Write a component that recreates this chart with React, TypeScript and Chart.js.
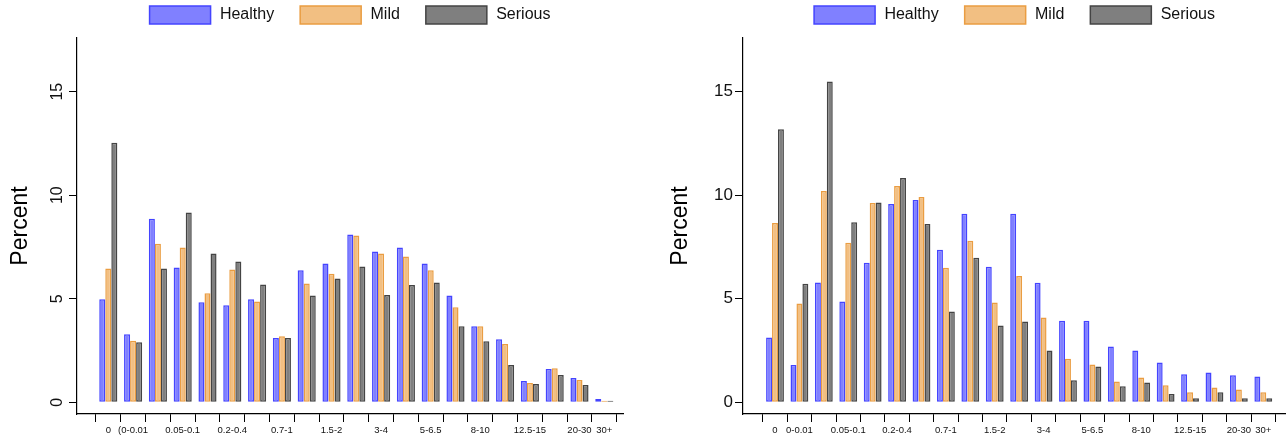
import React, { useEffect, useRef } from "react";
import { Chart, registerables } from "chart.js";

Chart.register(...registerables);

const categoriesLeft = ["0", "(0-0.01", "0.01-0.05", "0.05-0.1", "0.1-0.2", "0.2-0.4", "0.4-0.7", "0.7-1", "1-1.5", "1.5-2", "2-3", "3-4", "4-5", "5-6.5", "6.5-8", "8-10", "10-12.5", "12.5-15", "15-20", "20-30", "30+"];
const categoriesRight = ["0", "0-0.01", "0.01-0.05", "0.05-0.1", "0.1-0.2", "0.2-0.4", "0.4-0.7", "0.7-1", "1-1.5", "1.5-2", "2-3", "3-4", "4-5", "5-6.5", "6.5-8", "8-10", "10-12.5", "12.5-15", "15-20", "20-30", "30+"];

const tickLabelsLeft = ["0", "(0-0.01", "", "0.05-0.1", "", "0.2-0.4", "", "0.7-1", "", "1.5-2", "", "3-4", "", "5-6.5", "", "8-10", "", "12.5-15", "", "20-30", "30+"];
const tickLabelsRight = ["0", "0-0.01", "", "0.05-0.1", "", "0.2-0.4", "", "0.7-1", "", "1.5-2", "", "3-4", "", "5-6.5", "", "8-10", "", "12.5-15", "", "20-30", "30+"];

const yTicks = [0, 5, 10, 15];

const healthyLeft = [4.97, 3.29, 8.86, 6.51, 4.83, 4.68, 4.97, 3.10, 6.37, 6.70, 8.10, 7.28, 7.47, 6.70, 5.16, 3.67, 3.05, 1.03, 1.61, 1.17, 0.16];
const mildLeft = [6.46, 2.97, 7.66, 7.47, 5.26, 6.41, 4.87, 3.19, 5.74, 6.21, 8.05, 7.18, 7.04, 6.37, 4.59, 3.67, 2.81, 0.93, 1.65, 1.08, 0.07];
const seriousLeft = [12.53, 2.90, 6.46, 9.17, 7.18, 6.80, 5.69, 3.10, 5.16, 5.98, 6.56, 5.18, 5.66, 5.79, 3.67, 2.95, 1.80, 0.88, 1.32, 0.84, 0.07];

const healthyRight = [3.13, 1.80, 5.78, 4.87, 6.74, 9.57, 9.77, 7.36, 9.10, 6.55, 9.10, 5.77, 3.94, 3.94, 2.69, 2.50, 1.92, 1.35, 1.44, 1.30, 1.25];
const mildRight = [8.66, 4.77, 10.20, 7.70, 9.62, 10.44, 9.91, 6.50, 7.80, 4.82, 6.10, 4.10, 2.10, 1.82, 1.00, 1.20, 0.82, 0.48, 0.72, 0.62, 0.48];
const seriousRight = [13.18, 5.73, 15.49, 8.69, 9.65, 10.83, 8.61, 4.38, 6.98, 3.71, 3.90, 2.50, 1.06, 1.73, 0.77, 0.96, 0.40, 0.19, 0.48, 0.19, 0.19];

const seriesNames = ["Healthy", "Mild", "Serious"];

const FONT = "'Liberation Sans', Arial, Helvetica, sans-serif";
const W = 643;
const H = 442;
const LEGEND_HEIGHT = 38;

type PanelProps = {
  categories: string[];
  tickLabels: string[];
  series: number[][];
  left: number;
  yWidth: number;
  padRight: number;
  xMin: number;
  xMax: number;
  yRotated: boolean;
  titlePad: number;
};

const styles = [
  { bg: "#8080FF", border: "#4444FF" },
  { bg: "#F2BF82", border: "#EA9D42" },
  { bg: "#7F7F7F", border: "#444444" },
];

const legendHeightPlugin = {
  id: "legendHeight",
  beforeLayout(chart: any) {
    const lg = chart.legend;
    if (lg && !lg.__patched) {
      const orig = lg.fit.bind(lg);
      lg.fit = function () {
        orig();
        this.height = LEGEND_HEIGHT;
      };
      lg.__patched = true;
    }
  },
};

function Panel(p: PanelProps) {
  const ref = useRef<HTMLCanvasElement | null>(null);
  useEffect(() => {
    if (!ref.current) return;
    const datasets = p.series.map((vals, si) => ({
      label: seriesNames[si],
      data: p.categories.map((_, i) => ({ x: i, y: vals[i] })),
      backgroundColor: styles[si].bg,
      borderColor: styles[si].border,
      borderWidth: 1.5,
      borderSkipped: false,
      categoryPercentage: 0.73,
      barPercentage: 1.0,
    }));
    const chart = new Chart(ref.current, {
      type: "bar",
      data: { datasets },
      plugins: [legendHeightPlugin],
      options: {
        animation: false,
        responsive: false,
        layout: { padding: { top: 0, right: p.padRight, bottom: 0, left: 0 } },
        plugins: {
          tooltip: { enabled: false },
          legend: {
            display: true,
            position: "top",
            fullSize: false,
            labels: {
              boxWidth: 61,
              boxHeight: 18,
              padding: 6,
              color: "#111",
              font: { family: FONT, size: 16 },
              generateLabels: (chart: any) => {
                const items = Chart.defaults.plugins.legend.labels.generateLabels(chart);
                return items.map((it: any, i: number) => ({
                  ...it,
                  text: "\u200A" + (i < items.length - 1 ? it.text + "\u2003\u2005" : it.text),
                }));
              },
            },
          },
        },
        scales: {
          x: {
            type: "linear",
            min: p.xMin,
            max: p.xMax,
            offset: false,
            afterBuildTicks: (scale: any) => {
              scale.ticks = p.categories.map((_, i) => ({ value: i }));
            },
            afterFit: (scale: any) => {
              scale.height = 28;
            },
            grid: { display: true, drawOnChartArea: false, drawTicks: true, tickLength: 8, color: "#000", tickWidth: 1 },
            border: { display: true, color: "#000", width: 1.2 },
            ticks: {
              autoSkip: false,
              maxRotation: 0,
              minRotation: 0,
              padding: 3,
              color: "#111",
              font: { family: FONT, size: 9.5 },
              callback: (value: any) => p.tickLabels[Math.round(Number(value))] ?? "",
            },
          },
          y: {
            type: "linear",
            min: -0.565,
            max: 17.59,
            afterBuildTicks: (scale: any) => {
              scale.ticks = yTicks.map((v) => ({ value: v }));
            },
            afterFit: (scale: any) => {
              scale.width = p.yWidth;
            },
            grid: { display: true, drawOnChartArea: false, drawTicks: true, tickLength: 8, color: "#000", tickWidth: 1 },
            border: { display: true, color: "#000", width: 1.2 },
            ticks: p.yRotated
              ? {
                  minRotation: 90,
                  maxRotation: 90,
                  crossAlign: "center",
                  padding: 3,
                  color: "#111",
                  font: { family: FONT, size: 16 },
                }
              : {
                  padding: 2,
                  color: "#111",
                  font: { family: FONT, size: 17 },
                },
            title: {
              display: true,
              text: "Percent",
              color: "#000",
              font: { family: FONT, size: 23, lineHeight: 1.2 },
              padding: { top: p.titlePad, bottom: 0 },
            },
          },
        },
      } as any,
    });
    return () => chart.destroy();
  }, []);
  return (
    <canvas
      ref={ref}
      width={W}
      height={H}
      style={{ position: "absolute", left: p.left, top: 0, width: W, height: H }}
    />
  );
}

export default function App() {
  return (
    <div style={{ position: "fixed", left: 0, top: 0, width: 1286, height: 442, background: "#fff" }}>
      <Panel
        categories={categoriesLeft}
        tickLabels={tickLabelsLeft}
        series={[healthyLeft, mildLeft, seriousLeft]}
        left={0}
        yWidth={77}
        padRight={20}
        xMin={-1.262}
        xMax={20.754}
        yRotated={true}
        titlePad={7}
      />
      <Panel
        categories={categoriesRight}
        tickLabels={tickLabelsRight}
        series={[healthyRight, mildRight, seriousRight]}
        left={643}
        yWidth={100}
        padRight={0}
        xMin={-1.311}
        xMax={20.93}
        yRotated={false}
        titlePad={24}
      />
    </div>
  );
}
